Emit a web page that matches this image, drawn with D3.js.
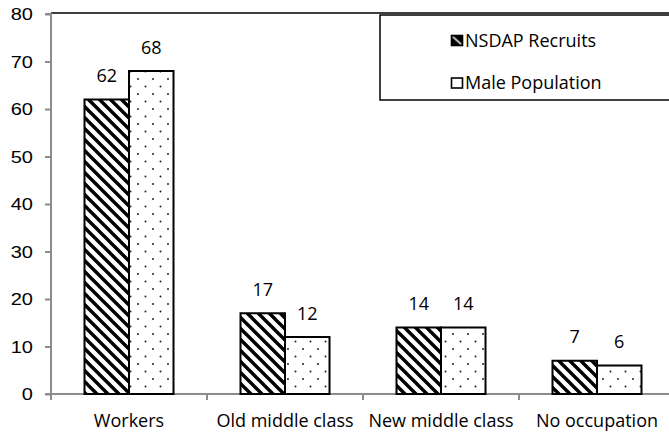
<!DOCTYPE html>
<html><head><meta charset="utf-8">
<script src="https://cdn.jsdelivr.net/npm/d3@7"></script>
<style>body{margin:0;background:#fff;overflow:hidden}</style>
</head><body>
<svg id="c" width="669" height="433"></svg>
<script>
const categories = ["Workers", "Old middle class", "New middle class", "No occupation"];
const recruits = [62, 17, 14, 7];
const population = [68, 12, 14, 6];
const seriesNames = ["NSDAP Recruits", "Male Population"];
const yTicks = [0, 10, 20, 30, 40, 50, 60, 70, 80];

(function(){
const FONT = "Open Sans";
const svg = d3.select("#c");
const defs = svg.append("defs");
const hatch = defs.append("pattern").attr("id","hatch").attr("patternUnits","userSpaceOnUse")
  .attr("width",11).attr("height",11);
hatch.append("rect").attr("width",11).attr("height",11).attr("fill","#fff");
hatch.append("path").attr("d","M-2,-2 L13,13 M-2,9 L2,13 M9,-2 L13,2").attr("stroke","#000").attr("stroke-width",3.4);
const dots = defs.append("pattern").attr("id","dots").attr("patternUnits","userSpaceOnUse")
  .attr("width",15).attr("height",15);
dots.append("rect").attr("width",15).attr("height",15).attr("fill","#fff");
dots.append("circle").attr("cx",3).attr("cy",4).attr("r",1).attr("fill","#222");
dots.append("circle").attr("cx",10.5).attr("cy",11.5).attr("r",1).attr("fill","#222");
const hs = defs.append("pattern").attr("id","hatchS").attr("patternUnits","objectBoundingBox").attr("width",1).attr("height",1);
hs.append("rect").attr("width",11).attr("height",10).attr("fill","#000");
hs.append("path").attr("d","M1,1 L10,9").attr("stroke","#fff").attr("stroke-width",1.6);

const left = 51, bottom = 394, topY = 14;
const y = d3.scaleLinear().domain([0,80]).range([bottom, topY]);
const x = d3.scaleBand().domain(categories).range([left, left + 4*156]).padding(0);
const barW = 44.5;

svg.append("line").attr("x1",left).attr("x2",669).attr("y1",13).attr("y2",13).attr("stroke","#000").attr("stroke-width",1.5);

const yAxis = d3.axisLeft(y).tickValues(yTicks).tickSize(6).tickPadding(18);
const gy = svg.append("g").attr("transform",`translate(${left},0)`).call(yAxis);
gy.select(".domain").attr("stroke","#8c8c8c").attr("stroke-width",2).attr("d",`M-6,${topY}H0V${bottom}`);
gy.selectAll(".tick line").attr("stroke","#8c8c8c").attr("stroke-width",2);
gy.selectAll(".tick text").attr("font-family","Liberation Sans, Arial").attr("font-size",16).attr("fill","#000")
  .attr("x",0).attr("dy","0.36em").attr("transform","translate(-18,0) scale(1.25,1)");

const gx = svg.append("g").attr("transform",`translate(0,${bottom})`);
gx.append("line").attr("x1",left-6).attr("x2",669).attr("stroke","#8c8c8c").attr("stroke-width",2);
const bounds = categories.map(c => x(c)).concat([x(categories[3]) + x.bandwidth()]);
gx.selectAll(".xt").data(bounds).join("line").attr("class","xt")
  .attr("x1",d=>d).attr("x2",d=>d).attr("y1",0).attr("y2",6).attr("stroke","#8c8c8c").attr("stroke-width",2);
gx.selectAll(".xl").data(categories).join("text").attr("class","xl")
  .attr("x",d=>x(d)+x.bandwidth()/2).attr("y",33).attr("text-anchor","middle")
  .attr("font-family",FONT).attr("font-size",18).attr("fill","#000").text(d=>d);

const series = [{vals:recruits, fill:"url(#hatch)", off:-barW},{vals:population, fill:"url(#dots)", off:0}];
series.forEach(s => {
  svg.append("g").selectAll("rect").data(categories).join("rect")
    .attr("x",(d)=>x(d)+x.bandwidth()/2 + s.off)
    .attr("y",(d,i)=>y(s.vals[i]))
    .attr("width",barW)
    .attr("height",(d,i)=>y(0)-y(s.vals[i]))
    .attr("fill",s.fill).attr("stroke","#000").attr("stroke-width",2);
  svg.append("g").selectAll("text").data(categories).join("text")
    .attr("x",(d)=>x(d)+x.bandwidth()/2 + s.off + barW/2)
    .attr("y",(d,i)=>y(s.vals[i]) - 17.5)
    .attr("text-anchor","middle").attr("font-family",FONT).attr("font-size",18).attr("fill","#000")
    .text((d,i)=>s.vals[i]);
});

const lg = svg.append("g");
lg.append("rect").attr("x",380).attr("y",15).attr("width",300).attr("height",85)
  .attr("fill","#fff").attr("stroke","#000").attr("stroke-width",1.5);
seriesNames.forEach((n,i) => {
  const base = 46.5 + i*42.5;
  lg.append("rect").attr("x",451.5).attr("y",base-11).attr("width",11).attr("height",10)
    .attr("fill", i===0 ? "url(#hatchS)" : "#fff").attr("stroke","#000").attr("stroke-width",1.6);
  lg.append("text").attr("x",465).attr("y",base).attr("font-family",FONT).attr("font-size",18).attr("fill","#000").text(n);
});
})();
</script>
</body></html>
